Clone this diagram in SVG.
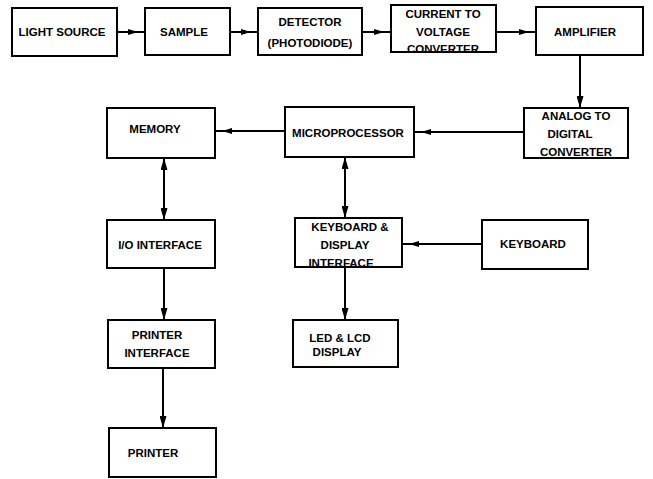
<svg xmlns="http://www.w3.org/2000/svg" width="653" height="479" viewBox="0 0 653 479">
<defs>
<marker id="ah" viewBox="0 0 12 7" refX="12" refY="3.5" markerWidth="12" markerHeight="7" markerUnits="userSpaceOnUse" orient="auto-start-reverse">
<path d="M0,0 L12,3.5 L0,7 z" fill="#000"/>
</marker>
<marker id="hm" viewBox="0 0 10 7" refX="10" refY="3.5" markerWidth="10" markerHeight="7" markerUnits="userSpaceOnUse" orient="auto">
<path d="M0,0.5 L10,3.5 L0,6.5 z" fill="#000"/>
</marker>
<style>
rect{fill:#fff;stroke:#000;stroke-width:2}
text{font-family:"Liberation Sans",Arial,sans-serif;font-size:11.5px;font-weight:bold;fill:#000;text-anchor:middle}
.c path{fill:none;stroke:#000;stroke-width:2}
</style>
</defs>
<rect x="0" y="0" width="653" height="479" style="fill:#fff;stroke:none"/>
<g class="c" id="connectors">
<path d="M117,32 L138,32 L145,32" marker-mid="url(#hm)"/>
<path d="M230,32 L251,32 L258,32" marker-mid="url(#hm)"/>
<path d="M362,32 L384,32 L391,32" marker-mid="url(#hm)"/>
<path d="M496,32 L529,32 L536,32" marker-mid="url(#hm)"/>
<path d="M580,55 L580,108" marker-end="url(#ah)"/>
<path d="M524,132 L421,132 L414,132" marker-mid="url(#hm)"/>
<path d="M285,131 L222,131 L215,131" marker-mid="url(#hm)"/>
<path d="M164,158 L164,220" marker-start="url(#ah)" marker-end="url(#ah)"/>
<path d="M345,157 L345,218" marker-start="url(#ah)" marker-end="url(#ah)"/>
<path d="M482,244 L409,244 L402,244" marker-mid="url(#hm)"/>
<path d="M164,268 L164,320" marker-end="url(#ah)"/>
<path d="M345,267 L345,320" marker-end="url(#ah)"/>
<path d="M163,368 L163,428" marker-end="url(#ah)"/>
</g>
<g id="light-source"><rect x="12" y="8" width="105" height="48"/><text x="62" y="36">LIGHT SOURCE</text></g>
<g id="sample"><rect x="145" y="8" width="85" height="47"/><text x="184" y="36">SAMPLE</text></g>
<g id="detector"><rect x="258" y="8" width="104" height="47"/><text x="310" y="26">DETECTOR</text><text x="310" y="47">(PHOTODIODE)</text></g>
<g id="current-to-voltage"><rect x="391" y="5" width="105" height="47"/><text x="443" y="18">CURRENT TO</text><text x="443" y="36">VOLTAGE</text><text x="443" y="53">CONVERTER</text></g>
<g id="amplifier"><rect x="536" y="7" width="107" height="48"/><text x="585" y="36">AMPLIFIER</text></g>
<g id="memory"><rect x="107" y="108" width="108" height="50"/><text x="155" y="133">MEMORY</text></g>
<g id="microprocessor"><rect x="285" y="107" width="129" height="50"/><text x="348" y="137">MICROPROCESSOR</text></g>
<g id="adc"><rect x="524" y="108" width="104" height="50"/><text x="576" y="120">ANALOG TO</text><text x="570" y="138">DIGITAL</text><text x="576" y="156">CONVERTER</text></g>
<g id="io-interface"><rect x="107" y="220" width="108" height="48"/><text x="160" y="249">I/O INTERFACE</text></g>
<g id="kbd-display-interface"><rect x="295" y="218" width="107" height="49"/><text x="350" y="231">KEYBOARD &amp;</text><text x="345" y="249">DISPLAY</text><text x="341" y="267">INTERFACE</text></g>
<g id="keyboard"><rect x="482" y="220" width="106" height="49"/><text x="533" y="248">KEYBOARD</text></g>
<g id="printer-interface"><rect x="108" y="320" width="107" height="48"/><text x="157" y="339">PRINTER</text><text x="157" y="357">INTERFACE</text></g>
<g id="led-lcd-display"><rect x="293" y="320" width="105" height="47"/><text x="340" y="342">LED &amp; LCD</text><text x="337" y="356">DISPLAY</text></g>
<g id="printer"><rect x="109" y="428" width="107" height="49"/><text x="153" y="457">PRINTER</text></g>
</svg>
